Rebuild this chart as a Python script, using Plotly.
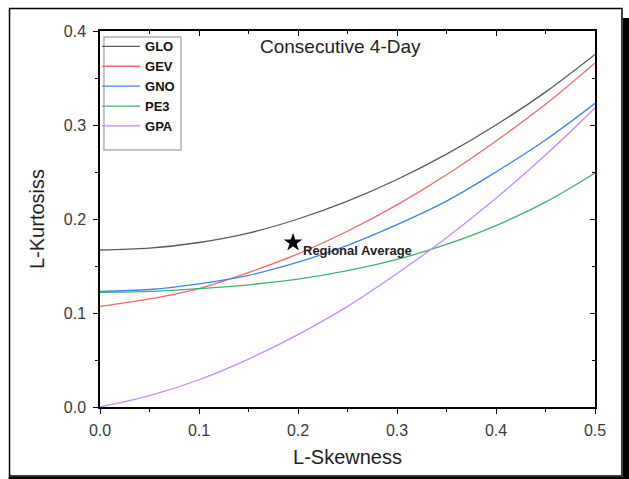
import plotly.graph_objects as go

# L-skewness sample points
tau3 = [0.0, 0.05, 0.10, 0.15, 0.20, 0.25, 0.30, 0.35, 0.40, 0.45, 0.50]

# L-kurtosis values read for each theoretical curve
glo = [0.167, 0.169, 0.175, 0.185, 0.200, 0.219, 0.242, 0.269, 0.300, 0.335, 0.375]
gev = [0.107, 0.115, 0.126, 0.143, 0.163, 0.187, 0.215, 0.247, 0.283, 0.322, 0.366]
gno = [0.123, 0.125, 0.131, 0.140, 0.154, 0.172, 0.194, 0.219, 0.250, 0.284, 0.323]
pe3 = [0.122, 0.123, 0.126, 0.130, 0.136, 0.145, 0.157, 0.173, 0.193, 0.218, 0.249]
gpa = [0.000, 0.012, 0.029, 0.051, 0.077, 0.107, 0.142, 0.180, 0.222, 0.268, 0.318]

series_names = ["GLO", "GEV", "GNO", "PE3", "GPA"]
series_values = [glo, gev, gno, pe3, gpa]
series_colors = ["#5a5a5a", "#f26868", "#3d85ee", "#3fb36e", "#c68cf0"]

# Regional average point
reg_t3 = [0.195]
reg_t4 = [0.175]

title_text = "Consecutive 4-Day"

fig = go.Figure()
for name, vals, col in zip(series_names, series_values, series_colors):
    fig.add_trace(go.Scatter(x=tau3, y=vals, mode="lines", name=name,
                             line=dict(color=col, width=1.3, shape="spline")))

fig.add_trace(go.Scatter(x=reg_t3, y=reg_t4, mode="markers", showlegend=False,
                         marker=dict(symbol="star", size=14, color="black")))

# dummy trace for the mirrored top/right axes
fig.add_trace(go.Scatter(x=[None], y=[None], xaxis="x2", yaxis="y2",
                         showlegend=False, hoverinfo="skip"))

axis_common = dict(showgrid=False, zeroline=False, showline=True,
                   linecolor="black", linewidth=1.5)

fig.update_layout(
    width=629, height=479,
    margin=dict(l=100, r=34, t=31, b=72),
    paper_bgcolor="white", plot_bgcolor="white",
    font=dict(family="Arial, Liberation Sans, sans-serif", color="#333333"),
    xaxis=dict(range=[0, 0.5], dtick=0.1, tick0=0, tickformat=".1f",
               ticks="outside", ticklen=5, tickcolor="black", tickwidth=1.2,
               minor=dict(dtick=0.05, ticks="outside", ticklen=3, tickcolor="black"),
               tickfont=dict(size=16, color="#3a3a3a"), ticklabelstandoff=3,
               title=dict(text="L-Skewness", font=dict(size=20, color="#222222"), standoff=12),
               **axis_common),
    yaxis=dict(range=[0, 0.4], dtick=0.1, tick0=0, tickformat=".1f",
               ticks="outside", ticklen=5, tickcolor="black", tickwidth=1.2,
               minor=dict(dtick=0.05, ticks="outside", ticklen=3, tickcolor="black"),
               tickfont=dict(size=16, color="#3a3a3a"), ticklabelstandoff=4,
               title=dict(text="L-Kurtosiss", font=dict(size=20, color="#222222"), standoff=14),
               **axis_common),
    xaxis2=dict(range=[0, 0.5], dtick=0.1, tick0=0, overlaying="x", side="top",
                anchor="y2", ticks="inside", ticklen=5, tickcolor="black", tickwidth=1.2,
                minor=dict(dtick=0.05, ticks="inside", ticklen=3, tickcolor="black"),
                showticklabels=False, **axis_common),
    yaxis2=dict(range=[0, 0.4], dtick=0.1, tick0=0, overlaying="y", side="right",
                anchor="x2", ticks="inside", ticklen=5, tickcolor="black", tickwidth=1.2,
                minor=dict(dtick=0.05, ticks="inside", ticklen=3, tickcolor="black"),
                showticklabels=False, **axis_common),
    legend=dict(x=-0.006, y=0.999, xanchor="left", yanchor="top",
                bgcolor="rgba(0,0,0,0)", borderwidth=0,
                font=dict(size=13, color="#111111", weight="bold"),
                itemwidth=38, tracegroupgap=0),
    showlegend=True,
)

fig.add_annotation(x=0.243, y=0.383, text=title_text, showarrow=False,
                   font=dict(size=19, color="#222222"), xref="x", yref="y")
fig.add_annotation(x=0.203, y=0.166, text="<b>Regional Average</b>", showarrow=False,
                   xanchor="left", yanchor="middle",
                   font=dict(size=13, color="#222222"), xref="x", yref="y")

# legend frame
fig.add_shape(type="rect", xref="paper", yref="paper",
              x0=0.008, x1=0.1636, y0=0.6835, y1=0.984,
              line=dict(color="#b0b0b0", width=1.5), fillcolor="rgba(0,0,0,0)")
# outer figure frame with drop shadow
fig.add_shape(type="rect", xref="paper", yref="paper",
              x0=-0.1828, x1=1.0545, y0=-0.1835, y1=1.0598,
              line=dict(color="black", width=1.5))
fig.add_shape(type="rect", xref="paper", yref="paper",
              x0=1.0566, x1=1.09, y0=-0.21, y1=1.0346,
              line=dict(width=0), fillcolor="black")
fig.add_shape(type="rect", xref="paper", yref="paper",
              x0=-0.1848, x1=1.09, y0=-0.21, y1=-0.1855,
              line=dict(width=0), fillcolor="black")

fig.write_html("out.html", config={"displayModeBar": False},
               post_script="document.body.style.margin='0';document.body.style.overflow='hidden';")
